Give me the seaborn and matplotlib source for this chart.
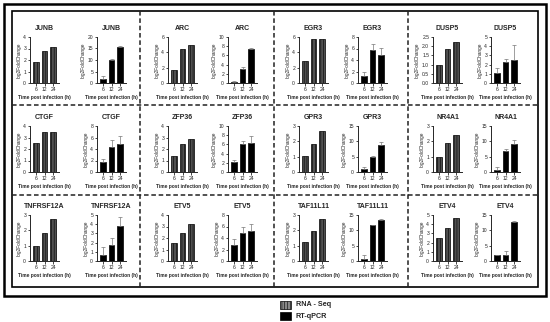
import numpy as np
import pandas as pd
import matplotlib
matplotlib.use("Agg")
from matplotlib import pyplot as plt
from matplotlib.patches import Rectangle
from matplotlib.lines import Line2D
import seaborn as sns

# Data
genes = ["JUNB", "ARC", "EGR3", "DUSP5",
         "CTGF", "ZFP36", "GPR3", "NR4A1",
         "TNFRSF12A", "ETV5", "TAF11L11", "ETV4"]
times = ["6", "12", "24"]

rna_seq = [[1.85, 2.75, 3.15], [1.7, 4.4, 5.0], [2.9, 5.7, 5.7], [1.0, 1.85, 2.25],
           [2.5, 3.45, 3.5], [1.4, 2.4, 2.85], [1.05, 1.8, 2.7], [0.95, 1.9, 2.4],
           [1.0, 1.85, 2.75], [1.55, 2.45, 3.25], [1.25, 1.95, 2.75], [2.55, 3.6, 4.7]]
qpcr = [[1.8, 10.0, 15.7], [0.15, 3.0, 7.4], [1.3, 5.8, 4.8], [1.1, 2.3, 2.5],
        [1.8, 4.3, 4.8], [2.2, 6.0, 6.3], [1.0, 4.9, 8.8], [0.8, 7.0, 9.2],
        [0.6, 1.75, 3.8], [2.75, 4.9, 5.2], [0.8, 11.6, 13.5], [1.8, 1.9, 12.8]]
qpcr_err = [[1.3, 0.3, 0.3], [0.3, 0.4, 0.2], [0.6, 0.9, 1.3], [0.5, 0.3, 1.6],
            [0.4, 1.3, 1.4], [0.4, 0.8, 1.5], [0.6, 0.4, 1.0], [0.8, 0.5, 1.2],
            [0.9, 0.7, 0.95], [1.1, 1.0, 1.2], [1.2, 0.2, 0.3], [0.3, 1.2, 0.4]]

rna_ymax = [4, 6, 6, 2.5, 4, 4, 3, 3, 3, 4, 3, 5]
rna_step = [1, 2, 2, 0.5, 1, 1, 1, 1, 1, 1, 1, 1]
qpcr_ymax = [20, 10, 8, 5, 8, 10, 15, 15, 5, 8, 15, 15]
qpcr_step = [5, 2, 2, 1, 2, 2, 5, 5, 1, 2, 5, 5]

sns.set_theme(style="ticks")
plt.rcParams["font.family"] = ["Liberation Sans", "DejaVu Sans"]
plt.rcParams["hatch.linewidth"] = 0.4

W, H = 550, 322
fig = plt.figure(figsize=(W / 100, H / 100), dpi=100)

# axes layout in pixels
col_lefts = [(30, 97), (168, 228), (299, 358), (433, 491)]
ax_w = 29
row_tops = [37, 126, 215]
ax_h = 46


def px_axes(x, y_top, w, h):
    return fig.add_axes([x / W, 1 - (y_top + h) / H, w / W, h / H])


def style_ax(ax, title, ymax, step):
    ax.set_ylim(0, ymax)
    ax.set_xlim(-0.65, 2.65)
    ticks = np.arange(0, ymax + step / 2, step)
    ax.set_yticks(ticks)
    if step < 1:
        ax.set_yticklabels([f"{t:.1f}" for t in ticks])
    else:
        ax.set_yticklabels([f"{int(t)}" for t in ticks])
    ax.tick_params(labelsize=3.6, length=1.8, width=0.6, pad=1)
    for s in ["left", "bottom"]:
        ax.spines[s].set_linewidth(0.7)
    sns.despine(ax=ax)
    ax.set_title(title, fontsize=5, fontweight="bold", pad=5)
    ax.set_ylabel("log2FoldChange", fontsize=3.4, labelpad=1.5)
    ax.set_xlabel("Time post infection (h)", fontsize=3.5, fontweight="bold", labelpad=2)


for i, gene in enumerate(genes):
    r, c = divmod(i, 4)
    top = row_tops[r]
    # RNA-seq panel
    ax1 = px_axes(col_lefts[c][0], top, ax_w, ax_h)
    df1 = pd.DataFrame({"time": times, "value": rna_seq[i]})
    sns.barplot(data=df1, x="time", y="value", ax=ax1, color="#505050",
                width=0.64, edgecolor="black", linewidth=0.5, errorbar=None)
    for p in ax1.patches:
        p.set_hatch("||||||")
    style_ax(ax1, gene, rna_ymax[i], rna_step[i])

    # RT-qPCR panel
    ax2 = px_axes(col_lefts[c][1], top, ax_w, ax_h)
    df2 = pd.DataFrame({"time": times, "value": qpcr[i]})
    sns.barplot(data=df2, x="time", y="value", ax=ax2, color="black",
                width=0.64, edgecolor="black", linewidth=0.5, errorbar=None)
    ax2.errorbar(range(3), qpcr[i], yerr=[[0, 0, 0], qpcr_err[i]], fmt="none",
                 ecolor="#777777", elinewidth=0.5, capsize=1.2, capthick=0.5)
    style_ax(ax2, gene, qpcr_ymax[i], qpcr_step[i])


def fx(x):
    return x / W


def fy(y):
    return 1 - y / H


# double frame
fig.add_artist(Rectangle((fx(4), fy(296)), fx(542), 292 / H, fill=False,
                         edgecolor="black", linewidth=1.8, transform=fig.transFigure))
fig.add_artist(Rectangle((fx(12), fy(287)), fx(526), 276 / H, fill=False,
                         edgecolor="black", linewidth=1.2, transform=fig.transFigure))

# dashed separators
for x in [140, 274, 408]:
    fig.add_artist(Line2D([fx(x), fx(x)], [fy(11), fy(287)], color="#222222",
                          linewidth=1.1, linestyle=(0, (3, 1.8)), transform=fig.transFigure))
for y in [105, 195]:
    fig.add_artist(Line2D([fx(12), fx(538)], [fy(y), fy(y)], color="#222222",
                          linewidth=1.1, linestyle=(0, (3, 1.8)), transform=fig.transFigure))

# legend
fig.add_artist(Rectangle((fx(280), fy(309)), fx(11), 8 / H, facecolor="#888888",
                         edgecolor="black", hatch="||||||", linewidth=0.5,
                         transform=fig.transFigure))
fig.add_artist(Rectangle((fx(280), fy(320)), fx(11), 8 / H, facecolor="black",
                         edgecolor="black", linewidth=0.5, transform=fig.transFigure))
fig.text(fx(296), fy(305), "RNA - Seq", fontsize=5.2, fontweight="bold", va="center")
fig.text(fx(296), fy(316), "RT-qPCR", fontsize=5.2, fontweight="bold", va="center")

fig.savefig("out.png", dpi=100, facecolor="white")
